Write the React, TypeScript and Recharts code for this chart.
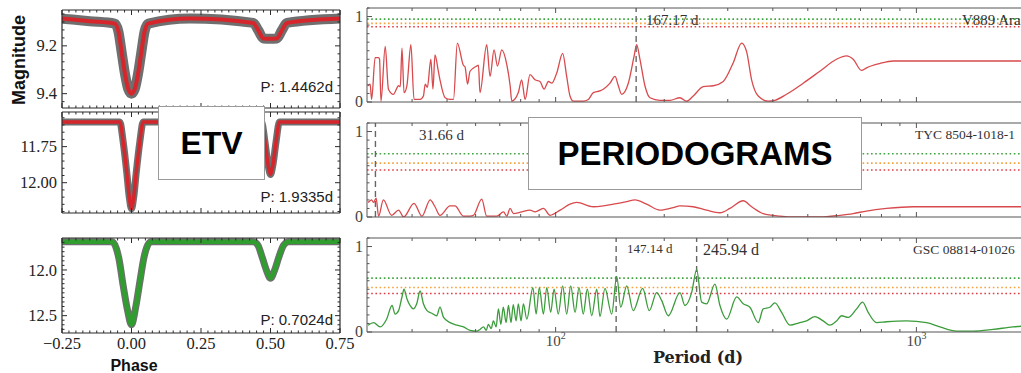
import React from 'react';
import { LineChart, Line, XAxis, YAxis, ReferenceLine } from 'recharts';

// light curves: phase vs magnitude (model)
const v889Phase = [-0.25, -0.15, -0.06, -0.047, -0.035, -0.023, -0.012, 0, 0.012, 0.023, 0.035, 0.047, 0.06, 0.21, 0.438, 0.456, 0.474, 0.5, 0.523, 0.541, 0.559, 0.75];
const v889Mag = [9.086, 9.097, 9.107, 9.14, 9.23, 9.32, 9.38, 9.4, 9.38, 9.32, 9.23, 9.14, 9.107, 9.086, 9.104, 9.135, 9.169, 9.17, 9.169, 9.135, 9.104, 9.086];

const tycPhase = [-0.25, -0.1, -0.042, -0.03, -0.017, -0.008, 0, 0.008, 0.017, 0.03, 0.042, 0.25, 0.468, 0.48, 0.492, 0.5, 0.508, 0.52, 0.532, 0.6, 0.75];
const tycMag = [11.579, 11.58, 11.58, 11.716, 11.93, 12.1, 12.18, 12.1, 11.93, 11.716, 11.58, 11.579, 11.58, 11.716, 11.884, 11.943, 11.884, 11.716, 11.58, 11.579, 11.579];

const gscPhase = [-0.25, -0.07, -0.055, -0.045, -0.03, -0.015, 0, 0.015, 0.03, 0.045, 0.058, 0.07, 0.438, 0.455, 0.47, 0.485, 0.5, 0.515, 0.53, 0.547, 0.565, 0.75];
const gscMag = [11.69, 11.69, 11.76, 11.88, 12.17, 12.43, 12.6, 12.41, 12.13, 11.86, 11.73, 11.69, 11.69, 11.73, 11.86, 12.0, 12.09, 12.0, 11.86, 11.73, 11.69, 11.69];

// periodograms: period (d) vs normalised power
const v889Period = [30.2, 30.6, 30.9, 31.6, 32.3, 32.5, 32.8, 33.7, 34.4, 35.5, 36.7, 37.1, 37.5, 38.0, 38.7, 39.7, 40.5, 42.1, 43.0, 43.5, 44.1, 45.1, 45.7, 46.3, 47.3, 47.8, 49.4, 51.0, 52.1, 53.4, 55.5, 56.1, 57.0, 57.9, 60.4, 61.1, 61.7, 64.4, 65.8, 67.5, 69.0, 70.9, 73.2, 74.8, 75.6, 78.8, 80.5, 82.3, 84.9, 87.7, 90.5, 92.9, 95.5, 97.5, 100.7, 104.6, 107.3, 109.6, 112.0, 119.3, 123.2, 127.2, 132.7, 135.6, 141.5, 146.1, 149.2, 152.4, 159.0, 164.9, 167.7, 171.3, 176.8, 182.6, 194.6, 207.5, 221.1, 230.7, 240.7, 256.6, 273.5, 291.5, 310.7, 327.7, 338.3, 349.3, 364.4, 388.4, 405.3, 436.5, 485.6, 540.1, 600.6, 640.1, 668, 704.3, 727.2, 791.8, 862.4, 979.5, 1212, 1630, 2000];
const v889Power = [0.19, 0.21, 0.03, 0.52, 0.52, 0.5, 0.01, 0.65, 0.15, 0.09, 0.19, 0.18, 0.63, 0.11, 0.19, 0.67, 0.03, 0.03, 0.07, 0.21, 0.17, 0.5, 0.15, 0.55, 0.36, 0.26, 0.05, 0.03, 0.03, 0.69, 0.43, 0.41, 0.21, 0.36, 0.42, 0.43, 0.11, 0.67, 0.3, 0.61, 0.42, 0.61, 0.44, 0.19, 0.01, 0.11, 0.26, 0.03, 0.32, 0.26, 0.24, 0.15, 0.24, 0.22, 0.34, 0.57, 0.3, 0.07, 0.01, 0.01, 0.03, 0.11, 0.13, 0.15, 0.22, 0.3, 0.19, 0.09, 0.22, 0.53, 0.67, 0.5, 0.19, 0.05, 0.02, 0.02, 0.05, 0.01, 0.07, 0.18, 0.19, 0.24, 0.46, 0.69, 0.59, 0.26, 0.07, 0.01, 0.02, 0.09, 0.22, 0.36, 0.5, 0.54, 0.5, 0.37, 0.4, 0.45, 0.48, 0.48, 0.48, 0.48, 0.48];

const tycPeriod = [30.2, 30.6, 30.9, 31.3, 31.8, 32.3, 33.3, 35.1, 36.7, 37.9, 40.5, 42.6, 44.9, 46.3, 47.8, 51.0, 52.6, 55.5, 57.9, 59.2, 62.4, 64.4, 68.7, 71.7, 73.2, 74.8, 76.4, 80.5, 84.9, 87.7, 92.5, 96.5, 102.9, 109.6, 114.4, 127.2, 135.6, 144.5, 157.4, 166.0, 178.8, 194.6, 211.9, 221.1, 240.7, 262.1, 285.4, 304.2, 331.1, 349.3, 376.2, 418.3, 465.4, 540.1, 613.6, 668, 727.2, 826.4, 979.5, 1212, 1630, 2000];
const tycPower = [0.17, 0.19, 0.2, 0.17, 0.22, 0.01, 0.2, 0.02, 0.08, 0.0, 0.16, 0.01, 0.2, 0.12, 0.02, 0.13, 0.13, 0.01, 0.01, 0.02, 0.21, 0.01, 0.01, 0.06, 0.01, 0.1, 0.04, 0.06, 0.08, 0.06, 0.1, 0.02, 0.08, 0.15, 0.17, 0.12, 0.13, 0.15, 0.18, 0.2, 0.15, 0.08, 0.11, 0.13, 0.12, 0.08, 0.05, 0.1, 0.19, 0.12, 0.04, 0.01, 0.0, 0.0, 0.02, 0.04, 0.07, 0.1, 0.12, 0.12, 0.12, 0.12];

const gscPeriod = [30.2, 31.3, 32.6, 34.0, 35.2, 35.9, 36.7, 37.5, 38.0, 38.7, 39.5, 40.3, 41.2, 42.1, 43.0, 44.0, 45.4, 46.8, 47.8, 48.9, 51.0, 53.2, 55.5, 57.9, 60.5, 61.7, 63.1, 64.2, 65.1, 66.3, 67.2, 68.4, 69.4, 70.5, 71.6, 72.9, 74.0, 75.2, 76.3, 77.7, 78.8, 80.2, 81.4, 83.2, 86.5, 88.3, 90.1, 92.5, 94.5, 96.9, 99.0, 101.7, 104.6, 107.3, 110.1, 113.2, 116.1, 119.3, 122.4, 125.9, 130.0, 132.7, 137.0, 143.0, 147.7, 151.5, 157.4, 164.1, 174.3, 181.8, 190.6, 196.7, 205.2, 221.1, 228.3, 238.2, 246.0, 253.9, 262.2, 276.4, 285.4, 297.9, 317.5, 331.1, 345.5, 364.4, 376.1, 392.5, 405.3, 423.0, 446.0, 475.3, 496.2, 523.1, 551.6, 575.6, 600.8, 620.2, 647.0, 682.7, 709.2, 735.0, 775.5, 826.5, 938.9, 1066.6, 1161, 1291.5, 1436, 1631, 1853, 2000];
const gscPower = [0.08, 0.11, 0.06, 0.15, 0.31, 0.21, 0.25, 0.41, 0.5, 0.39, 0.31, 0.27, 0.33, 0.48, 0.33, 0.25, 0.22, 0.19, 0.29, 0.17, 0.11, 0.08, 0.06, 0.02, 0.01, 0.03, 0.06, 0.02, 0.09, 0.04, 0.13, 0.06, 0.27, 0.09, 0.29, 0.11, 0.31, 0.11, 0.32, 0.13, 0.33, 0.13, 0.33, 0.15, 0.52, 0.21, 0.52, 0.21, 0.52, 0.23, 0.5, 0.21, 0.54, 0.21, 0.54, 0.23, 0.52, 0.21, 0.5, 0.19, 0.5, 0.18, 0.51, 0.21, 0.65, 0.29, 0.54, 0.25, 0.51, 0.25, 0.46, 0.37, 0.19, 0.46, 0.31, 0.46, 0.73, 0.35, 0.33, 0.56, 0.31, 0.15, 0.41, 0.33, 0.29, 0.11, 0.27, 0.29, 0.34, 0.23, 0.08, 0.11, 0.13, 0.18, 0.13, 0.08, 0.13, 0.19, 0.17, 0.27, 0.35, 0.23, 0.11, 0.12, 0.13, 0.11, 0.06, 0.01, 0.01, 0.03, 0.06, 0.07];

// false-alarm levels (green, orange, red) and marked peaks
const fapColors = ['#3da53d', '#f7a13c', '#e03c46'];
const v889Fap = [0.97, 0.92, 0.88];
const tycFap = [0.74, 0.63, 0.55];
const gscFap = [0.63, 0.52, 0.45];
const v889Peaks = [167.17];
const tycPeaks = [31.66];
const gscPeaks = [147.14, 245.94];

const periodTicks = [40, 50, 60, 70, 80, 90, 100, 200, 300, 400, 500, 600, 700, 800, 900, 1000, 2000];
const powerTicks = [0, 0.1, 0.2, 0.3, 0.4, 0.5, 0.6, 0.7, 0.8, 0.9, 1, 1.1];

const steps = (from: number, to: number, step: number) => {
  const out: number[] = [];
  for (let i = 0; from + i * step <= to + 1e-9; i++) out.push(+(from + i * step).toFixed(4));
  return out;
};
const phaseTicks = steps(-0.25, 0.75, 0.025);

const SERIF = '"Liberation Serif", "DejaVu Serif", serif';
const SANS = '"Liberation Sans", Arial, sans-serif';
const FRAME = '#2b2b2b';

const onGrid = (v: number, base: number, step: number) => Math.abs((v - base) / step - Math.round((v - base) / step)) < 1e-3;
const fmtPhase = (v: number) => (v < 0 ? '\u2212' : '') + Math.abs(v).toFixed(2);

type TickOpts = {
  side: 'bottom' | 'top' | 'left' | 'right';
  isMajor: (v: number) => boolean;
  label?: (v: number) => React.ReactNode;
  len?: number;
  minorLen?: number;
  color?: string;
  fontSize?: number;
  textColor?: string;
  gap?: number;
};

// inward matplotlib style ticks
const makeTick = (o: TickOpts) => (props: any) => {
  const { x, y, payload } = props;
  const v = payload.value as number;
  const big = o.isMajor(v);
  const len = big ? o.len ?? 5 : o.minorLen ?? 2.5;
  let x2 = x;
  let y2 = y;
  if (o.side === 'bottom') y2 = y - len;
  if (o.side === 'top') y2 = y + len;
  if (o.side === 'left') x2 = x + len;
  if (o.side === 'right') x2 = x - len;
  const text = big && o.label ? o.label(v) : null;
  const fs = o.fontSize ?? 16.5;
  return (
    <g>
      <line x1={x} y1={y} x2={x2} y2={y2} stroke={o.color ?? FRAME} strokeWidth={1} />
      {text != null && o.side === 'bottom' && (
        <text x={x} y={y + fs * 0.95} textAnchor="middle" fontFamily={SERIF} fontSize={fs} fill={o.textColor ?? '#222'}>
          {text}
        </text>
      )}
      {text != null && o.side === 'left' && (
        <text x={x - (o.gap ?? 5)} y={y} dy="0.34em" textAnchor="end" fontFamily={SERIF} fontSize={fs} fill={o.textColor ?? '#222'}>
          {text}
        </text>
      )}
    </g>
  );
};

type LcProps = {
  plotTop: number;
  plotHeight: number;
  phase: number[];
  mag: number[];
  domain: [number, number];
  magTicks: number[];
  isMajorY: (v: number) => boolean;
  fmtY: (v: number) => string;
  color: string;
  band: number;
  width: number;
  showX: boolean;
};

const LC_LEFT = 62;
const LC_W = 278;

// axes are 1px thick, so margins are one less than the wanted plot offset
function LightCurve(p: LcProps) {
  const m = { top: 2, right: p.showX ? 23 : 3, bottom: p.showX ? 23 : 2, left: 59 };
  const data = p.phase.map((ph, i) => ({ ph, m: p.mag[i] }));
  const isMajorX = (v: number) => onGrid(v, 0, 0.25);
  return (
    <div style={{ position: 'absolute', left: LC_LEFT - m.left - 1, top: p.plotTop - m.top - 1 }}>
      <LineChart width={m.left + LC_W + m.right + 2} height={m.top + p.plotHeight + m.bottom + 2} data={data} margin={m}>
        <XAxis dataKey="ph" type="number" domain={[-0.25, 0.75]} allowDataOverflow ticks={phaseTicks} interval={0}
          height={1} tickSize={0} tickMargin={0} tickLine={false} axisLine={{ stroke: FRAME, strokeWidth: 1.2 }}
          tick={makeTick({ side: 'bottom', isMajor: isMajorX, label: p.showX ? fmtPhase : undefined, len: 5, minorLen: 2.5 })} />
        <XAxis xAxisId="t" orientation="top" dataKey="ph" type="number" domain={[-0.25, 0.75]} allowDataOverflow ticks={phaseTicks} interval={0}
          height={1} tickSize={0} tickMargin={0} tickLine={false} axisLine={{ stroke: FRAME, strokeWidth: 1.2 }}
          tick={makeTick({ side: 'top', isMajor: isMajorX, len: 5, minorLen: 2.5 })} />
        <YAxis type="number" reversed domain={p.domain} allowDataOverflow ticks={p.magTicks} interval={0}
          width={1} tickSize={0} tickMargin={0} tickLine={false} axisLine={{ stroke: FRAME, strokeWidth: 1.2 }}
          tick={makeTick({ side: 'left', isMajor: p.isMajorY, label: p.fmtY, len: 5, minorLen: 2.5 })} />
        <YAxis yAxisId="r" orientation="right" type="number" reversed domain={p.domain} allowDataOverflow ticks={p.magTicks} interval={0}
          width={1} tickSize={0} tickMargin={0} tickLine={false} axisLine={{ stroke: FRAME, strokeWidth: 1.2 }}
          tick={makeTick({ side: 'right', isMajor: p.isMajorY, len: 5, minorLen: 2.5 })} />
        <Line dataKey="m" type="monotone" stroke="#6f6f6f" strokeWidth={p.band} dot={false} isAnimationActive={false} strokeLinejoin="round" />
        <Line dataKey="m" type="monotone" stroke={p.color} strokeWidth={p.width} dot={false} isAnimationActive={false} strokeLinejoin="round" />
      </LineChart>
    </div>
  );
}

type PgProps = {
  plotTop: number;
  period: number[];
  power: number[];
  fap: number[];
  peaks: number[];
  color: string;
  showX: boolean;
};

const PG_LEFT = 367;
const PG_W = 658;
const PG_H = 94;

const sup = (v: number) => (
  <>
    <tspan>10</tspan>
    <tspan dy={-7} fontSize={10}>{Math.round(Math.log10(v))}</tspan>
  </>
);

function Periodogram(p: PgProps) {
  const m = { top: 2, right: 2, bottom: p.showX ? 25 : 10, left: 29 };
  const data = p.period.map((d, i) => ({ d, v: p.power[i] }));
  const isMajorX = (v: number) => v === 100 || v === 1000;
  const isMajorY = (v: number) => v === 0 || v === 1;
  return (
    <div style={{ position: 'absolute', left: PG_LEFT - m.left - 1, top: p.plotTop - m.top - 1 }}>
      <LineChart width={m.left + PG_W + m.right + 1} height={m.top + PG_H + m.bottom + 2} data={data} margin={m}>
        <XAxis dataKey="d" type="number" scale="log" domain={[30, 2000]} allowDataOverflow ticks={periodTicks} interval={0}
          height={1} tickSize={0} tickMargin={0} tickLine={false} axisLine={{ stroke: '#555', strokeWidth: 1 }}
          tick={makeTick({ side: 'bottom', isMajor: isMajorX, label: p.showX ? sup : undefined, len: 5, minorLen: 3, color: '#555', fontSize: 15, textColor: '#444' })} />
        <XAxis xAxisId="t" orientation="top" dataKey="d" type="number" scale="log" domain={[30, 2000]} allowDataOverflow ticks={periodTicks} interval={0}
          height={1} tickSize={0} tickMargin={0} tickLine={false} axisLine={{ stroke: '#555', strokeWidth: 1 }}
          tick={makeTick({ side: 'top', isMajor: isMajorX, len: 5, minorLen: 3, color: '#555' })} />
        <YAxis type="number" domain={[0, 1.1]} allowDataOverflow ticks={powerTicks} interval={0}
          width={1} tickSize={0} tickMargin={0} tickLine={false} axisLine={{ stroke: '#555', strokeWidth: 1 }}
          tick={makeTick({ side: 'left', isMajor: isMajorY, label: (v) => String(v), len: 5, minorLen: 2.5, color: '#555', fontSize: 16, textColor: '#444', gap: 4 })} />
        {p.fap.map((f, i) => (
          <ReferenceLine key={'f' + i} y={f} stroke={fapColors[i]} strokeWidth={1.6} strokeDasharray="1.6 2.6" />
        ))}
        {p.peaks.map((pk) => (
          <ReferenceLine key={'p' + pk} x={pk} stroke="#666" strokeWidth={1.4} strokeDasharray="6 4" />
        ))}
        <Line dataKey="v" type="monotone" stroke={p.color} strokeWidth={1.3} dot={false} isAnimationActive={false} />
      </LineChart>
    </div>
  );
}

const Txt = ({ x, y, size, children, family = SERIF, weight = 400, color = '#333', anchor = 'left' }: any) => (
  <div
    style={{
      position: 'absolute',
      left: x,
      top: y - size * 0.58,
      fontSize: size,
      lineHeight: 1.15,
      fontFamily: family,
      fontWeight: weight,
      color,
      whiteSpace: 'nowrap',
      transform: anchor === 'right' ? 'translateX(-100%)' : anchor === 'center' ? 'translateX(-50%)' : undefined,
    }}
  >
    {children}
  </div>
);

const boxStyle: React.CSSProperties = {
  position: 'absolute',
  boxSizing: 'border-box',
  border: '1.5px solid #9a9a9a',
  background: '#fff',
  display: 'flex',
  alignItems: 'center',
  justifyContent: 'center',
  fontFamily: SANS,
  fontWeight: 700,
  color: '#000',
};

export default function App() {
  return (
    <div style={{ position: 'absolute', left: 0, top: 0, width: 1021, height: 373, overflow: 'hidden', background: '#fff' }}>
      <LightCurve plotTop={10} plotHeight={98} phase={v889Phase} mag={v889Mag} domain={[9.05, 9.46]}
        magTicks={steps(9.0667, 9.46, 0.2 / 6)} isMajorY={(v) => onGrid(v, 9.2, 0.2)} fmtY={(v) => v.toFixed(1)}
        color="#d6262b" band={10} width={4} showX={false} />
      <LightCurve plotTop={112} plotHeight={101} phase={tycPhase} mag={tycMag} domain={[11.51, 12.21]}
        magTicks={steps(11.55, 12.2, 0.05)} isMajorY={(v) => onGrid(v, 11.75, 0.25)} fmtY={(v) => v.toFixed(2)}
        color="#d6262b" band={7} width={3.5} showX={false} />
      <LightCurve plotTop={238} plotHeight={95} phase={gscPhase} mag={gscMag} domain={[11.65, 12.69]}
        magTicks={steps(11.7, 12.65, 0.05)} isMajorY={(v) => onGrid(v, 12.0, 0.5)} fmtY={(v) => v.toFixed(1)}
        color="#2f9e2f" band={7} width={4.5} showX={true} />

      <Periodogram plotTop={8} period={v889Period} power={v889Power} fap={v889Fap} peaks={v889Peaks} color="#d84a4d" showX={false} />
      <Periodogram plotTop={123} period={tycPeriod} power={tycPower} fap={tycFap} peaks={tycPeaks} color="#d84a4d" showX={false} />
      <Periodogram plotTop={238} period={gscPeriod} power={gscPower} fap={gscFap} peaks={gscPeaks} color="#3b9c3b" showX={true} />

      <div style={{ position: 'absolute', left: 19, top: 60, transform: 'translate(-50%, -50%) rotate(-90deg)', fontFamily: SANS, fontWeight: 700, fontSize: 18, whiteSpace: 'nowrap', color: '#111' }}>
        Magnitude
      </div>
      <Txt x={134} y={366} size={16} family={SANS} weight={700} color="#111" anchor="center">Phase</Txt>
      <Txt x={333} y={87} size={15} family={SANS} color="#222" anchor="right">P: 1.4462d</Txt>
      <Txt x={333} y={197} size={15} family={SANS} color="#222" anchor="right">P: 1.9335d</Txt>
      <Txt x={333} y={320} size={15} family={SANS} color="#222" anchor="right">P: 0.7024d</Txt>

      <Txt x={646} y={21} size={15}>167.17 d</Txt>
      <Txt x={962} y={21} size={15}>V889 Ara</Txt>
      <Txt x={419} y={136} size={15}>31.66 d</Txt>
      <Txt x={915} y={135} size={13.5}>TYC 8504-1018-1</Txt>
      <Txt x={627} y={250} size={13}>147.14 d</Txt>
      <Txt x={703} y={250} size={16}>245.94 d</Txt>
      <Txt x={913} y={250} size={13.5}>GSC 08814-01026</Txt>
      <Txt x={698} y={358} size={16} family={'"DejaVu Serif", serif'} weight={700} color="#222" anchor="center">Period (d)</Txt>

      <div style={{ ...boxStyle, left: 158, top: 106, width: 107, height: 74, fontSize: 32 }}>ETV</div>
      <div style={{ ...boxStyle, left: 528, top: 117, width: 334, height: 73, fontSize: 33 }}>PERIODOGRAMS</div>
    </div>
  );
}
